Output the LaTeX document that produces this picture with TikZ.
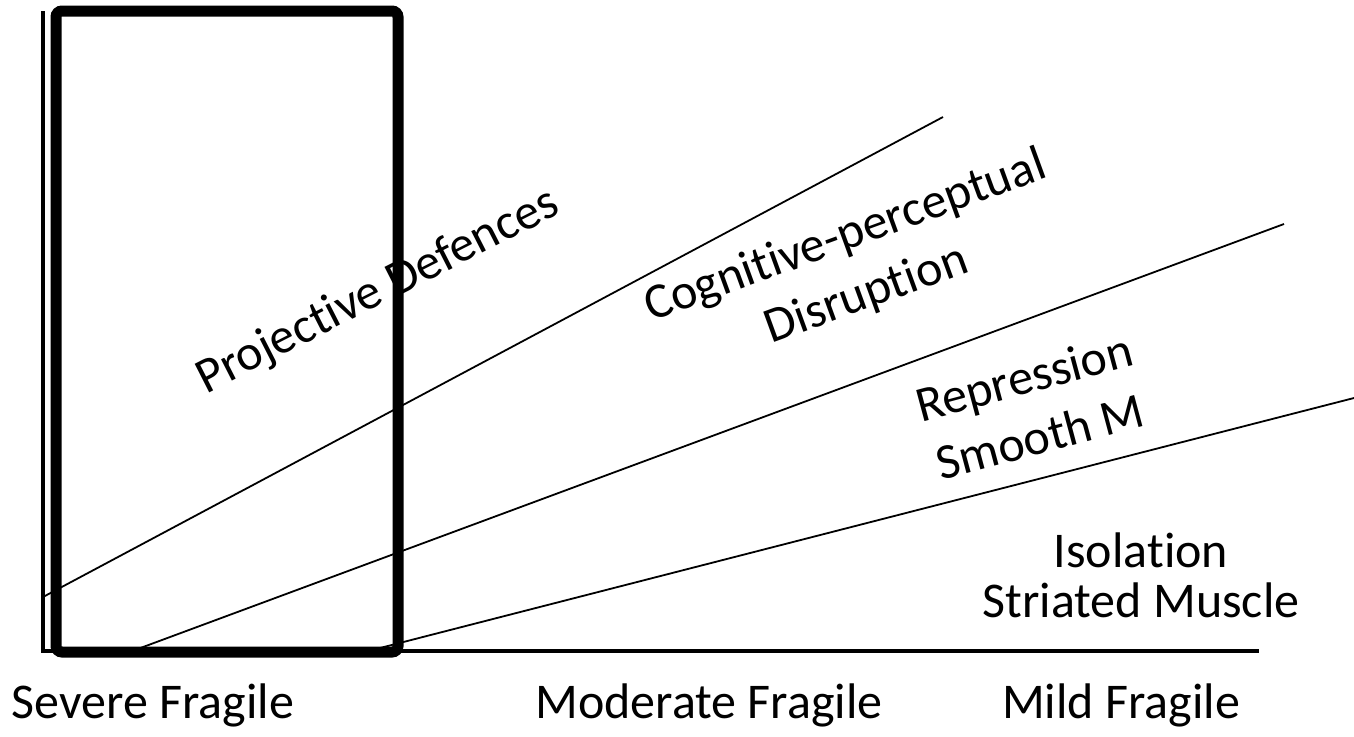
\documentclass[tikz,border=0pt]{standalone}
\usepackage{fontspec}
\setmainfont[Ligatures=NoCommon]{Carlito}
\usetikzlibrary{positioning}
\tikzset{axis/.style={draw, line width=4pt}}
\tikzset{band/.style={draw, line width=1.8pt}}
\tikzset{sevbox/.style={draw, line width=11pt, rounded corners=6pt}}
\tikzset{lbl/.style={font=\fontsize{50}{62}\selectfont, align=center, inner sep=0pt}}

\begin{document}
\begin{tikzpicture}[x=1pt, y=-1pt]
	\useasboundingbox (0,0) rectangle (1354,736);
	\coordinate (top) at (43,11);
	\coordinate (o) at (43,651);
	\coordinate (end) at (1259,651);
	\draw[axis] (top) -- (o) -- (end);

	\draw[sevbox] (56,11) rectangle (398,652);

	% band limits
	\coordinate (a0) at (43,597);
	\coordinate (a1) at (943,117);
	\coordinate (b0) at (135,650);
	\coordinate (b1) at (1284,224);
	\coordinate (c0) at (380,648);
	\coordinate (c1) at (1354,398);
	\draw[band] (a0) -- (a1);
	\draw[band] (b0) -- (b1);
	\draw[band] (c0) -- (c1);

	\node[lbl, rotate=27] (projective) at (378,292) {Projective Defences};
	\node[lbl, rotate=20] (cognitive) at (856,266) {Cognitive-perceptual\\Disruption};
	\node[lbl, rotate=15] (repression) at (1032,407) {Repression\\Smooth M};
	\node[lbl, font=\fontsize{50}{50}\selectfont] (isolation) at (1141,575) {Isolation\\Striated Muscle};

	\node[lbl] (severe) at (153,705) {Severe Fragile};
	\node[lbl] (moderate) at (709,705) {Moderate Fragile};
	\node[lbl] (mild) at (1121,705) {Mild Fragile};
\end{tikzpicture}
\end{document}
